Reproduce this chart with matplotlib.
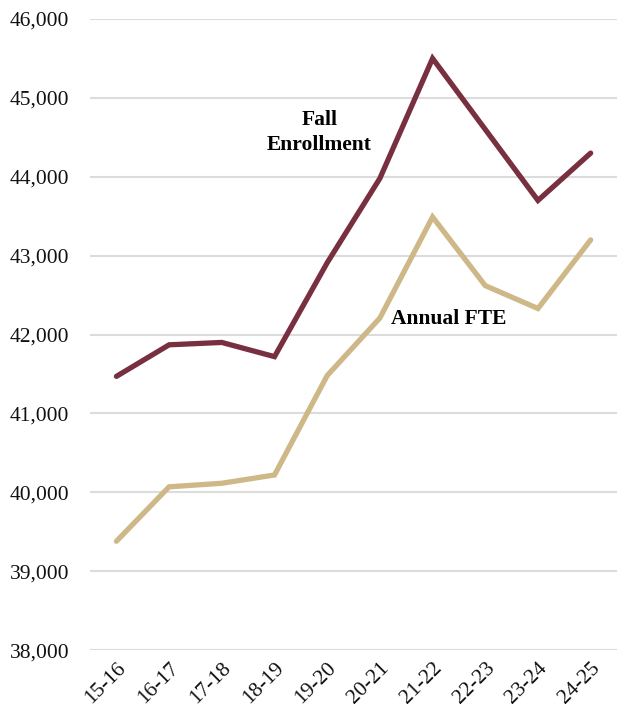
import numpy as np
import matplotlib.pyplot as plt

# ============================================================
# ========================= DATA =============================
# ============================================================

YEARS = ["15-16", "16-17", "17-18", "18-19", "19-20",
         "20-21", "21-22", "22-23", "23-24", "24-25"]

FALL_ENROLLMENT = [41470, 41870, 41900, 41720, 42910,
                   43980, 45500, 44600, 43700, 44300]

ANNUAL_FTE = [39380, 40070, 40115, 40220, 41480,
              42210, 43490, 42620, 42330, 43200]

GARNET = "#782F40"
GOLD = "#CEB888"

# ============================================================
# ========================= PLOT =============================
# ============================================================

def main():
    plt.rcParams["font.family"] = ["Liberation Serif", "DejaVu Serif"]

    fig = plt.figure(figsize=(6.17, 7.16), dpi=100)
    ax = fig.add_axes([0.146, 0.092, 0.854, 0.8815])

    x = np.arange(len(YEARS))
    ax.plot(x, FALL_ENROLLMENT, color=GARNET, lw=3.8, solid_capstyle="round",
            solid_joinstyle="miter", zorder=3)
    ax.plot(x, ANNUAL_FTE, color=GOLD, lw=3.8, solid_capstyle="round",
            solid_joinstyle="miter", zorder=3)

    ax.set_xlim(-0.5, len(YEARS) - 0.5)
    ax.set_ylim(38000, 46000)
    ax.set_yticks(np.arange(38000, 46001, 1000))
    ax.yaxis.set_major_formatter(plt.FuncFormatter(lambda v, p: f"{int(v):,}"))
    ax.set_xticks(x)
    ax.set_xticklabels(YEARS, rotation=45, ha="right", rotation_mode="anchor")

    ax.grid(axis="y", color="#dcdcdc", lw=1.5, zorder=0)
    for s in ax.spines.values():
        s.set_visible(False)
    ax.tick_params(axis="both", length=0, labelsize=15.5, colors="#111111")
    ax.tick_params(axis="y", pad=15)
    ax.tick_params(axis="x", pad=6)

    ax.text(3.85, 44560, "Fall\nEnrollment", ha="center", va="center",
            fontsize=15.5, fontweight="bold", linespacing=1.35)
    ax.text(6.3, 42200, "Annual FTE", ha="center", va="center",
            fontsize=15.5, fontweight="bold")

    fig.savefig("out.png", dpi=100)
    plt.close(fig)


if __name__ == "__main__":
    main()
